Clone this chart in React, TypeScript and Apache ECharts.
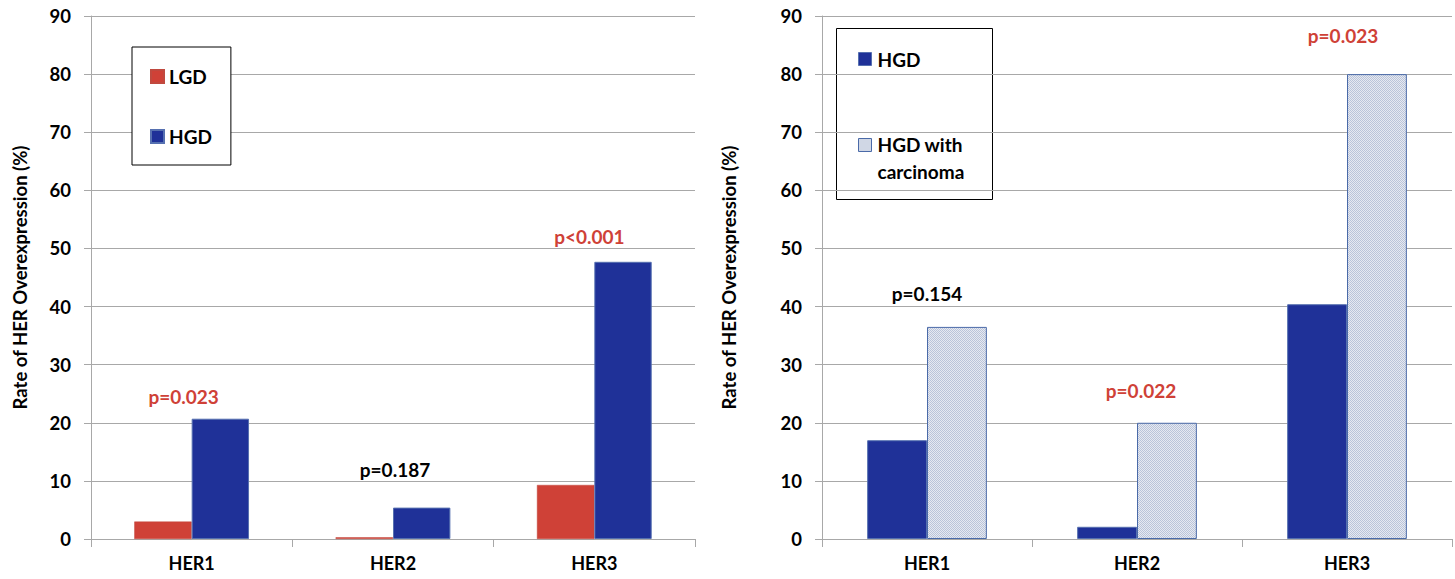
import React, { useEffect, useRef } from "react";
import * as echarts from "echarts";

const categories = ["HER1", "HER2", "HER3"];
const yTicks = [0, 10, 20, 30, 40, 50, 60, 70, 80, 90];

const leftLGD = [3.0, 0.3, 9.3];
const leftHGD = [20.7, 5.4, 47.7];
const rightHGD = [17.0, 2.1, 40.4];
const rightCarcinoma = [36.5, 20.0, 80.0];

const leftPText = ["p=0.023", "p=0.187", "p<0.001"];
const leftPValue = [24.6, 11.9, 52.1];
const leftPRed = [true, false, true];
const leftPShift = [-8, 2, -5];
const rightPText = ["p=0.154", "p=0.022", "p=0.023"];
const rightPValue = [42.2, 25.6, 86.6];
const rightPRed = [false, true, true];
const rightPShift = [0, 4, -4];

const yTitle = "Rate of HER Overexpression (%)";

const RED = "#cf4137";
const BLUE = "#1f3198";
const FONT = "Lato, 'Open Sans', sans-serif";
const GRID = "#a8a8a8";

function makePattern(): any {
  const c = document.createElement("canvas");
  c.width = 2;
  c.height = 2;
  const ctx = c.getContext("2d");
  if (!ctx) return "#d3d9e6";
  ctx.fillStyle = "#e6e9f1";
  ctx.fillRect(0, 0, 2, 2);
  ctx.fillStyle = "#bac4d9";
  ctx.fillRect(0, 0, 1, 1);
  ctx.fillRect(1, 1, 1, 1);
  return { image: c, repeat: "repeat" };
}

export default function App() {
  const ref = useRef<HTMLDivElement>(null);
  useEffect(() => {
    document.body.style.margin = "0";
    if (!ref.current) return;
    const chart = echarts.init(ref.current, null, { renderer: "svg" });
    const pattern = makePattern();

    const xAxisBase = (gridIndex: number) => ({
      type: "category",
      gridIndex,
      data: categories,
      axisLine: { show: true, lineStyle: { color: GRID, width: 1 } },
      axisTick: { show: true, interval: 0, length: 8, lineStyle: { color: GRID } },
      axisLabel: { color: "#000", fontFamily: FONT, fontWeight: "bold", fontSize: 18, margin: 15 },
    });
    const yAxisBase = (gridIndex: number, nameGap: number) => ({
      type: "value",
      gridIndex,
      min: yTicks[0],
      max: yTicks[yTicks.length - 1],
      interval: yTicks[1] - yTicks[0],
      name: yTitle,
      nameLocation: "middle",
      nameGap,
      nameTextStyle: { color: "#000", fontFamily: FONT, fontWeight: "bold", fontSize: 18.5 },
      axisLine: { show: true, lineStyle: { color: GRID, width: 1 } },
      axisTick: { show: true, length: 7, lineStyle: { color: GRID } },
      splitLine: { show: true, lineStyle: { color: GRID, width: 1 } },
      axisLabel: { color: "#000", fontFamily: FONT, fontWeight: "bold", fontSize: 18.5, margin: 20 },
    });

    const annot = (xi: number, texts: string[], vals: number[], reds: boolean[], shifts: number[]) => ({
      type: "scatter",
      xAxisIndex: xi,
      yAxisIndex: xi,
      symbolSize: 0,
      silent: true,
      z: 5,
      itemStyle: { opacity: 1 },
      data: categories.map((c, i) => ({
        value: [c, vals[i]],
        label: {
          show: true,
          position: "inside",
          offset: [shifts[i], 0],
          formatter: texts[i],
          color: reds[i] ? RED : "#000",
          opacity: 1,
          fontFamily: FONT,
          fontWeight: "bold",
          fontSize: 19,
        },
      })),
    });

    chart.setOption({
      animation: false,
      grid: [
        { left: 91, top: 16, width: 604, height: 523 },
        { left: 822, top: 16, width: 630, height: 523 },
      ],
      xAxis: [xAxisBase(0), xAxisBase(1)],
      yAxis: [yAxisBase(0, 62), yAxisBase(1, 84)],
      legend: {
        left: 132,
        top: 47,
        orient: "vertical",
        data: ["LGD", "HGD"],
        backgroundColor: "#fff",
        borderColor: "#000",
        borderWidth: 1,
        borderRadius: 0,
        padding: [20, 19, 19, 18],
        itemWidth: 13,
        itemHeight: 13,
        itemGap: 41,
        icon: "rect",
        z: 10,
        textStyle: { color: "#000", fontFamily: FONT, fontWeight: "bold", fontSize: 19 },
      },
      graphic: [
        {
          type: "group",
          left: 836,
          top: 28,
          z: 10,
          children: [
            { type: "rect", shape: { x: 0, y: 0, width: 156, height: 171 }, style: { fill: "#fff", stroke: "#000", lineWidth: 1 } },
            { type: "rect", shape: { x: 22, y: 24, width: 13, height: 13 }, style: { fill: BLUE, stroke: "#5670b0", lineWidth: 1 } },
            { type: "text", x: 41, y: 31, style: { text: "HGD", fill: "#000", font: `bold 19px ${FONT}`, verticalAlign: "middle" } },
            { type: "rect", shape: { x: 22, y: 110, width: 13, height: 13 }, style: { fill: pattern, stroke: "#4a6aa8", lineWidth: 1 } },
            { type: "text", x: 41, y: 102, style: { text: "HGD with\ncarcinoma", fill: "#000", font: `bold 19px ${FONT}`, lineHeight: 27, verticalAlign: "top" } },
          ],
        },
      ],
      series: [
        {
          name: "LGD",
          type: "bar",
          xAxisIndex: 0,
          yAxisIndex: 0,
          data: leftLGD,
          barGap: "0%",
          barCategoryGap: "43%",
          itemStyle: { color: RED, borderColor: "#c0493f", borderWidth: 0.5 },
        },
        {
          name: "HGD",
          type: "bar",
          xAxisIndex: 0,
          yAxisIndex: 0,
          data: leftHGD,
          barGap: "0%",
          barCategoryGap: "43%",
          itemStyle: { color: BLUE, borderColor: "#5670b0", borderWidth: 1 },
        },
        {
          name: "HGD",
          type: "bar",
          xAxisIndex: 1,
          yAxisIndex: 1,
          data: rightHGD,
          barGap: "0%",
          barCategoryGap: "43%",
          itemStyle: { color: BLUE, borderColor: "#5670b0", borderWidth: 1 },
        },
        {
          name: "HGD with carcinoma",
          type: "bar",
          xAxisIndex: 1,
          yAxisIndex: 1,
          data: rightCarcinoma,
          barGap: "0%",
          barCategoryGap: "43%",
          itemStyle: { color: pattern, borderColor: "#4a6aa8", borderWidth: 1 },
        },
        annot(0, leftPText, leftPValue, leftPRed, leftPShift),
        annot(1, rightPText, rightPValue, rightPRed, rightPShift),
      ],
    });
    return () => chart.dispose();
  }, []);
  return <div ref={ref} style={{ width: 1455, height: 579 }} />;
}
